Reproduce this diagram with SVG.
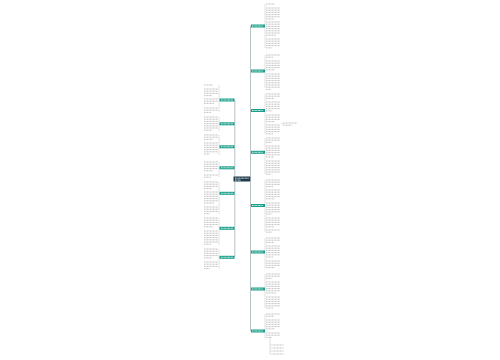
<svg xmlns="http://www.w3.org/2000/svg" width="500" height="360" viewBox="0 0 500 360">
<style>
.bg{fill:#ffffff}
.root rect{fill:#1f3b4d}
.br rect{fill:#1aa08a}
.lbl{stroke:#e6f4f1;stroke-width:0.9;stroke-dasharray:1 0.4}
.txt{fill:none;stroke:#b4b4b4;stroke-width:0.8;stroke-dasharray:1.1 0.4}
.conn path{fill:none;stroke:#8c9aa0;stroke-width:0.6}
.leafc path{fill:none;stroke:#c0c0c0;stroke-width:0.5}
</style>
<rect class="bg" x="0" y="0" width="500" height="360"/>
<g id="connectors" class="conn">
<path d="M250.5 176.5V26M250.5 181.5V331M250.5 26h1M250.5 71h1M250.5 110.5h1M250.5 152.3h1M250.5 205.5h1M250.5 252h1M250.5 289h1M250.5 331h1"/>
<path d="M234.8 176.5V100M234.8 181.5V257"/>
</g>
<g id="leaf-connectors" class="leafc">
<path d="M265 4V48M265 55V88M265 94V134M265 138V174M265 180V232M265 238V268M265 274V308M265 314V338M270 338V354M270 345h2M270 348h2M270 351h2M270 354h2M281 123.5h2"/>
<path d="M219 85V112M219 117V131M219 135V155M219 162V177M219 182V214M219 218V245M219 249V269"/>
</g>
<g id="root" class="root"><rect x="233.5" y="176.5" width="17" height="5"/><path class="lbl" d="M235 178.2h14M235 180.1h6"/></g>
<g id="n-r1" class="br"><rect x="251" y="24.5" width="14" height="3"/><path class="lbl" d="M252 26h11"/></g>
<g id="n-r2" class="br"><rect x="251" y="69.5" width="14" height="3"/><path class="lbl" d="M252 71h11"/></g>
<g id="n-r3" class="br"><rect x="251" y="109" width="14" height="3"/><path class="lbl" d="M252 110.5h11"/></g>
<g id="n-r4" class="br"><rect x="251" y="150.8" width="14" height="3"/><path class="lbl" d="M252 152.3h11"/></g>
<g id="n-r5" class="br"><rect x="251" y="204" width="14" height="3"/><path class="lbl" d="M252 205.5h11"/></g>
<g id="n-r6" class="br"><rect x="251" y="250.5" width="14" height="3"/><path class="lbl" d="M252 252h11"/></g>
<g id="n-r7" class="br"><rect x="251" y="287.5" width="14" height="3"/><path class="lbl" d="M252 289h11"/></g>
<g id="n-r8" class="br"><rect x="251" y="329.5" width="14" height="3"/><path class="lbl" d="M252 331h11"/></g>
<g id="n-l1" class="br"><rect x="219.5" y="98.5" width="15" height="3"/><path class="lbl" d="M221 100h12"/></g>
<g id="n-l2" class="br"><rect x="219.5" y="122.3" width="15" height="3"/><path class="lbl" d="M221 123.8h12"/></g>
<g id="n-l3" class="br"><rect x="219.5" y="145.3" width="15" height="3"/><path class="lbl" d="M221 146.8h12"/></g>
<g id="n-l4" class="br"><rect x="219.5" y="166.3" width="15" height="3"/><path class="lbl" d="M221 167.8h12"/></g>
<g id="n-l5" class="br"><rect x="219.5" y="191.8" width="15" height="3"/><path class="lbl" d="M221 193.3h12"/></g>
<g id="n-l6" class="br"><rect x="219.5" y="226.8" width="15" height="3"/><path class="lbl" d="M221 228.3h12"/></g>
<g id="n-l7" class="br"><rect x="219.5" y="255.8" width="15" height="3"/><path class="lbl" d="M221 257.3h12"/></g>
<g id="leaves-right">
<path class="txt" d="M266 4h9M266 8h14M266 10.2h14M266 12.4h14M266 14.6h14M266 16.8h14M266 19h8M266 22h14M266 24.2h14M266 26.4h14M266 28.6h14M266 30.8h14M266 33h14M266 35.2h10M266 39h14M266 41.2h14M266 43.4h14M266 45.6h14M266 47.8h6"/>
<path class="txt" d="M266 55h14M266 57.2h7M266 61h14M266 63.2h14M266 65.4h14M266 67.6h14M266 69.8h9M266 74h14M266 76.2h14M266 78.4h14M266 80.6h14M266 82.8h14M266 85h14M266 87.2h14M266 89.4h5"/>
<path class="txt" d="M266 94h14M266 96.2h14M266 98.4h8M266 102h14M266 104.2h14M266 106.4h14M266 108.6h14M266 110.8h6M266 115h14M266 117.2h14M266 119.4h14M266 121.6h9M266 125h14M266 127.2h14M266 129.4h14M266 131.6h14M266 133.8h7M283 123h14M283 125.2h9"/>
<path class="txt" d="M266 138h14M266 140.2h14M266 142.4h6M266 146h14M266 148.2h14M266 150.4h14M266 152.6h14M266 154.8h14M266 157h8M266 161h14M266 163.2h14M266 165.4h14M266 167.6h14M266 169.8h14M266 172h14M266 174.2h5"/>
<path class="txt" d="M266 180h14M266 182.2h14M266 184.4h14M266 186.6h7M266 190h14M266 192.2h14M266 194.4h14M266 196.6h14M266 198.8h9M266 203h14M266 205.2h14M266 207.4h14M266 209.6h14M266 211.8h14M266 214h6M266 218h14M266 220.2h14M266 222.4h14M266 224.6h14M266 226.8h8M266 230h14M266 232.2h6"/>
<path class="txt" d="M266 238h14M266 240.2h14M266 242.4h8M266 246h14M266 248.2h14M266 250.4h14M266 252.6h14M266 254.8h14M266 257h7M266 261h14M266 263.2h14M266 265.4h14M266 267.6h9"/>
<path class="txt" d="M266 274h14M266 276.2h14M266 278.4h6M266 282h14M266 284.2h14M266 286.4h14M266 288.6h14M266 290.8h14M266 293h10M266 297h14M266 299.2h14M266 301.4h14M266 303.6h14M266 305.8h14M266 308h7"/>
<path class="txt" d="M266 314h14M266 316.2h8M266 320h14M266 322.2h14M266 324.4h14M266 326.6h14M266 328.8h9M266 333h14M266 335.2h14M266 337.4h6M272.5 345h11M272.5 348h11M272.5 351h11M272.5 354h11"/>
</g>
<g id="leaves-left">
<path class="txt" d="M204 85h9M204 89h14M204 91.2h14M204 93.4h14M204 95.6h8M204 99h14M204 101.2h14M204 103.4h10M204 108h14M204 110.2h14M204 112.4h7"/>
<path class="txt" d="M204 117h14M204 119.2h14M204 121.4h14M204 123.6h14M204 125.8h14M204 128h14M204 130.2h8"/>
<path class="txt" d="M204 135h14M204 137.2h14M204 139.4h9M204 143h14M204 145.2h14M204 147.4h14M204 149.6h14M204 151.8h14M204 154h6"/>
<path class="txt" d="M204 162h14M204 164.2h14M204 166.4h14M204 168.6h14M204 170.8h9M204 175h14M204 177.2h7"/>
<path class="txt" d="M204 182h14M204 184.2h14M204 186.4h14M204 188.6h8M204 192h14M204 194.2h14M204 196.4h14M204 198.6h14M204 200.8h14M204 203h10M204 207h14M204 209.2h14M204 211.4h14M204 213.6h6"/>
<path class="txt" d="M204 218h14M204 220.2h14M204 222.4h14M204 224.6h14M204 226.8h9M204 231h14M204 233.2h14M204 235.4h14M204 237.6h14M204 239.8h14M204 242h14M204 244.2h7"/>
<path class="txt" d="M204 249h14M204 251.2h14M204 253.4h14M204 255.6h14M204 257.8h8M204 262h14M204 264.2h14M204 266.4h14M204 268.6h6"/>
</g>
</svg>
